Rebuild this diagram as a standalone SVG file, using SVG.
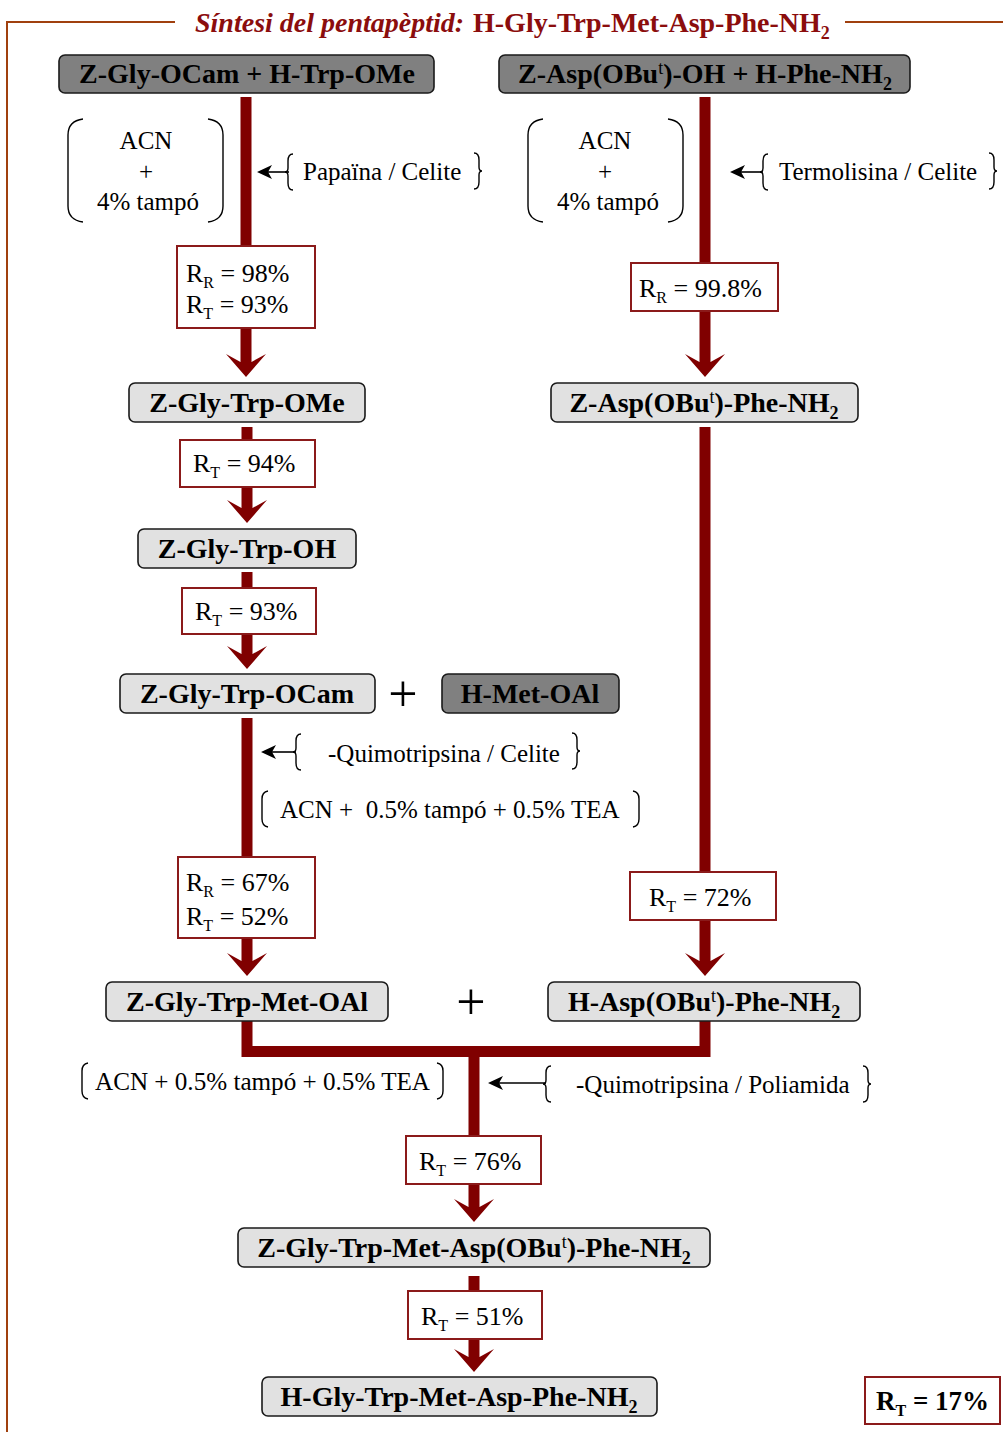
<svg xmlns="http://www.w3.org/2000/svg" xmlns:xlink="http://www.w3.org/1999/xlink" width="1003" height="1432" viewBox="0 0 1003 1432">
<style>
.frame{fill:none;stroke:#a0400e;stroke-width:2}
.title{font-family:"Liberation Serif","DejaVu Serif",serif;font-size:28px;font-weight:bold;fill:#8b0d0d}
.node rect{stroke:#1a1a1a;stroke-width:1.6}
.dark{fill:#808080}
.light{fill:#e1e1e1}
.lbl{font-family:"Liberation Serif","DejaVu Serif",serif;font-size:28px;font-weight:bold;fill:#000;text-anchor:middle}
.sup{font-size:18px;font-weight:normal}
.sub{font-size:18px}
.conn{stroke:#800000;stroke-width:11;fill:none;stroke-linejoin:miter}
.yb{fill:#fff;stroke:#8b1a1a;stroke-width:2}
.yt{font-family:"Liberation Serif","DejaVu Serif",serif;font-size:26px;fill:#000}
.ytb{font-weight:bold;font-size:27px}
.ys{font-size:16px}
.ann{font-family:"Liberation Serif","DejaVu Serif",serif;font-size:25px;fill:#000}
.brk{fill:none;stroke:#000;stroke-width:1.4}
.sarrow{stroke:#000;stroke-width:1.6;fill:none}
.plus{font-family:"Liberation Serif","DejaVu Serif",serif;font-size:52px;fill:#000;text-anchor:middle}
</style>
<defs>
<marker id="ah" markerUnits="userSpaceOnUse" viewBox="0 -20 23 40" markerWidth="23" markerHeight="40" refX="8" refY="0" orient="auto" overflow="visible">
<path d="M0,-20 L23,0 L0,20 L8,5.5 L8,-5.5 Z" fill="#800000"/>
</marker>
<marker id="sa" markerUnits="userSpaceOnUse" viewBox="0 -8 15 16" markerWidth="15" markerHeight="16" refX="4" refY="0" orient="auto" overflow="visible">
<path d="M0,-7 L15,0 L0,7 L4,0 Z" fill="#000"/>
</marker>
<path id="lb" class="brk" d="M5,-18 Q0,-18 0,-11 L0,-4 Q0,0 -3,0 Q0,0 0,4 L0,11 Q0,18 5,18"/>
<path id="rb" class="brk" d="M-5,-18 Q0,-18 0,-11 L0,-4 Q0,0 3,0 Q0,0 0,4 L0,11 Q0,18 -5,18"/>
<path id="lp" class="brk" d="M6,-18 Q0,-17 0,-10 L0,10 Q0,17 6,18"/>
<path id="rp" class="brk" d="M-6,-18 Q0,-17 0,-10 L0,10 Q0,17 -6,18"/>
<path id="blp" class="brk" d="M16,0 Q1,2 1,16 L1,87 Q1,101 16,103"/>
<path id="brp" class="brk" d="M0,0 Q15,2 15,16 L15,87 Q15,101 0,103"/>
</defs>

<rect width="1003" height="1432" fill="#fff"/>

<g id="frame">
<path class="frame" d="M175,22 L7,22 L7,1432"/>
<path class="frame" d="M845,22 L1003,22"/>
</g>

<g id="title">
<text class="title" x="195" y="32" font-style="italic">Síntesi del pentapèptid:</text>
<text class="title" x="473" y="32">H-Gly-Trp-Met-Asp-Phe-NH<tspan class="sub" dy="7">2</tspan></text>
</g>

<g id="connectors">
<line class="conn" x1="246" y1="97" x2="246" y2="362" marker-end="url(#ah)"/>
<line class="conn" x1="247" y1="427" x2="247" y2="508" marker-end="url(#ah)"/>
<line class="conn" x1="247" y1="572" x2="247" y2="654" marker-end="url(#ah)"/>
<line class="conn" x1="247" y1="718" x2="247" y2="961" marker-end="url(#ah)"/>
<line class="conn" x1="705" y1="97" x2="705" y2="362" marker-end="url(#ah)"/>
<line class="conn" x1="705" y1="427" x2="705" y2="961" marker-end="url(#ah)"/>
<path class="conn" d="M247,1021 L247,1051.5 L705,1051.5 L705,1021"/>
<line class="conn" x1="474" y1="1051" x2="474" y2="1207" marker-end="url(#ah)"/>
<line class="conn" x1="474" y1="1276" x2="474" y2="1357" marker-end="url(#ah)"/>
</g>

<g id="n1" class="node"><rect class="dark" x="59" y="55" width="375" height="38" rx="6"/><text class="lbl" x="247" y="83">Z-Gly-OCam + H-Trp-OMe</text></g>
<g id="n2" class="node"><rect class="dark" x="499" y="55" width="411" height="38" rx="6"/><text class="lbl" x="705" y="83">Z-Asp(OBu<tspan class="sup" dy="-9">t</tspan><tspan dy="9">)-OH + H-Phe-NH</tspan><tspan class="sub" dy="7">2</tspan></text></g>
<g id="n3" class="node"><rect class="light" x="129" y="383" width="236" height="39" rx="6"/><text class="lbl" x="247" y="412">Z-Gly-Trp-OMe</text></g>
<g id="n4" class="node"><rect class="light" x="551" y="383" width="307" height="39" rx="6"/><text class="lbl" x="704" y="412">Z-Asp(OBu<tspan class="sup" dy="-9">t</tspan><tspan dy="9">)-Phe-NH</tspan><tspan class="sub" dy="7">2</tspan></text></g>
<g id="n5" class="node"><rect class="light" x="138" y="529" width="218" height="39" rx="6"/><text class="lbl" x="247" y="558">Z-Gly-Trp-OH</text></g>
<g id="n6" class="node"><rect class="light" x="120" y="674" width="255" height="39" rx="6"/><text class="lbl" x="247" y="703">Z-Gly-Trp-OCam</text></g>
<g id="n7" class="node"><rect class="dark" x="442" y="674" width="177" height="39" rx="6"/><text class="lbl" x="530" y="703">H-Met-OAl</text></g>
<g id="n8" class="node"><rect class="light" x="106" y="982" width="282" height="39" rx="6"/><text class="lbl" x="247" y="1011">Z-Gly-Trp-Met-OAl</text></g>
<g id="n9" class="node"><rect class="light" x="548" y="982" width="312" height="39" rx="6"/><text class="lbl" x="704" y="1011">H-Asp(OBu<tspan class="sup" dy="-9">t</tspan><tspan dy="9">)-Phe-NH</tspan><tspan class="sub" dy="7">2</tspan></text></g>
<g id="n10" class="node"><rect class="light" x="238" y="1228" width="472" height="39" rx="6"/><text class="lbl" x="474" y="1257">Z-Gly-Trp-Met-Asp(OBu<tspan class="sup" dy="-9">t</tspan><tspan dy="9">)-Phe-NH</tspan><tspan class="sub" dy="7">2</tspan></text></g>
<g id="n11" class="node"><rect class="light" x="262" y="1377" width="395" height="39" rx="6"/><text class="lbl" x="459" y="1406">H-Gly-Trp-Met-Asp-Phe-NH<tspan class="sub" dy="7">2</tspan></text></g>

<g id="plus1"><text class="plus" x="403" y="711">+</text></g>
<g id="plus2"><text class="plus" x="471" y="1019">+</text></g>

<g id="y1"><rect class="yb" x="177" y="246" width="138" height="82"/>
<text class="yt" x="186" y="282">R<tspan class="ys" dy="6">R</tspan><tspan dy="-6"> = 98%</tspan></text>
<text class="yt" x="186" y="313">R<tspan class="ys" dy="6">T</tspan><tspan dy="-6"> = 93%</tspan></text></g>
<g id="y2"><rect class="yb" x="180" y="440" width="135" height="47"/>
<text class="yt" x="193" y="472">R<tspan class="ys" dy="6">T</tspan><tspan dy="-6"> = 94%</tspan></text></g>
<g id="y3"><rect class="yb" x="182" y="588" width="134" height="46"/>
<text class="yt" x="195" y="620">R<tspan class="ys" dy="6">T</tspan><tspan dy="-6"> = 93%</tspan></text></g>
<g id="y4"><rect class="yb" x="178" y="857" width="137" height="81"/>
<text class="yt" x="186" y="891">R<tspan class="ys" dy="6">R</tspan><tspan dy="-6"> = 67%</tspan></text>
<text class="yt" x="186" y="925">R<tspan class="ys" dy="6">T</tspan><tspan dy="-6"> = 52%</tspan></text></g>
<g id="y5"><rect class="yb" x="631" y="263" width="147" height="48"/>
<text class="yt" x="639" y="297">R<tspan class="ys" dy="6">R</tspan><tspan dy="-6"> = 99.8%</tspan></text></g>
<g id="y6"><rect class="yb" x="630" y="872" width="146" height="48"/>
<text class="yt" x="649" y="906">R<tspan class="ys" dy="6">T</tspan><tspan dy="-6"> = 72%</tspan></text></g>
<g id="y7"><rect class="yb" x="406" y="1136" width="135" height="48"/>
<text class="yt" x="419" y="1170">R<tspan class="ys" dy="6">T</tspan><tspan dy="-6"> = 76%</tspan></text></g>
<g id="y8"><rect class="yb" x="408" y="1291" width="134" height="48"/>
<text class="yt" x="421" y="1325">R<tspan class="ys" dy="6">T</tspan><tspan dy="-6"> = 51%</tspan></text></g>
<g id="total"><rect class="yb" x="865" y="1377" width="135" height="47"/>
<text class="yt ytb" x="876" y="1410">R<tspan class="ys" dy="6">T</tspan><tspan dy="-6"> = 17%</tspan></text></g>

<g id="cond1">
<use href="#blp" x="67" y="119"/>
<use href="#brp" x="208" y="119"/>
<text class="ann" x="146" y="149" text-anchor="middle">ACN</text>
<text class="ann" x="146" y="180" text-anchor="middle">+</text>
<text class="ann" x="148" y="210" text-anchor="middle">4% tampó</text>
</g>
<g id="enz1">
<line class="sarrow" x1="289" y1="172" x2="268" y2="172" marker-end="url(#sa)"/>
<use href="#lb" x="288" y="172"/>
<text class="ann" x="303" y="180">Papaïna / Celite</text>
<use href="#rb" x="479" y="171"/>
</g>
<g id="cond2">
<use href="#blp" x="527" y="119"/>
<use href="#brp" x="668" y="119"/>
<text class="ann" x="605" y="149" text-anchor="middle">ACN</text>
<text class="ann" x="605" y="180" text-anchor="middle">+</text>
<text class="ann" x="608" y="210" text-anchor="middle">4% tampó</text>
</g>
<g id="enz2">
<line class="sarrow" x1="763" y1="172" x2="741" y2="172" marker-end="url(#sa)"/>
<use href="#lb" x="763" y="172"/>
<text class="ann" x="779" y="180">Termolisina / Celite</text>
<use href="#rb" x="994" y="171"/>
</g>
<g id="enz3">
<line class="sarrow" x1="296" y1="752" x2="272" y2="752" marker-end="url(#sa)"/>
<use href="#lb" x="296" y="752"/>
<text class="ann" x="328" y="762">-Quimotripsina / Celite</text>
<use href="#rb" x="577" y="751"/>
</g>
<g id="cond3">
<use href="#lp" x="262" y="809"/>
<text class="ann" x="280" y="818" xml:space="preserve">ACN +  0.5% tampó + 0.5% TEA</text>
<use href="#rp" x="639" y="809"/>
</g>
<g id="cond4">
<use href="#lp" x="82" y="1081"/>
<text class="ann" x="95" y="1090" textLength="335" lengthAdjust="spacingAndGlyphs">ACN + 0.5% tampó + 0.5% TEA</text>
<use href="#rp" x="443" y="1081"/>
</g>
<g id="enz4">
<line class="sarrow" x1="546" y1="1083" x2="499" y2="1083" marker-end="url(#sa)"/>
<use href="#lb" x="546" y="1084"/>
<text class="ann" x="576" y="1093">-Quimotripsina / Poliamida</text>
<use href="#rb" x="868" y="1084"/>
</g>
</svg>
